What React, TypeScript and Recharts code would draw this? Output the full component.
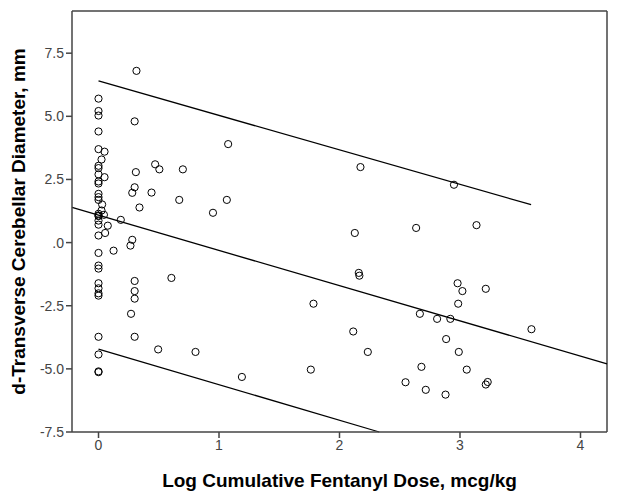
import React from "react";
import {
  ScatterChart,
  Scatter,
  XAxis,
  YAxis,
  ReferenceLine,
} from "recharts";

// data
const doseX = [
  0, 0, 0, 0, 0, 0.05, 0.025, 0, 0, 0, 0.05, 0, 0, 0, 0, 0, 0.03, 0, 0, 0.025, 0.045, 0, 0, 0, 0.055, 0.077, 0.185,
  0, 0.125, 0, 0, 0, 0, 0, 0, 0, 0, 0, 0, 0,
  0.315, 0.3, 0.47, 0.505, 0.7, 0.31, 0.3, 0.28, 0.44, 0.67, 0.34, 0.28, 0.265,
  0.3, 0.3, 0.3, 0.27, 0.3, 0.605, 0.495, 0.805,
  1.076, 2.174, 1.065, 0.95, 2.127, 2.16, 2.165, 1.784, 2.114, 2.235, 1.762, 1.19,
  2.95, 2.636, 3.137, 2.98, 3.02, 3.214, 2.985, 2.667, 2.81, 2.92, 3.593, 2.885, 2.99,
  2.68, 3.056, 2.548, 2.716, 2.88, 3.214, 3.23,
];
const diameterY = [
  5.7, 5.21, 5.03, 4.4, 3.7, 3.6, 3.29, 3.04, 2.95, 2.7, 2.59, 2.42, 2.34, 1.93, 1.8, 1.69, 1.51, 1.14, 1.07, 1.27, 1.1, 0.87, 0.71, 0.28, 0.38, 0.67, 0.9,
  -0.41, -0.32, -0.91, -1.03, -1.61, -1.81, -2.01, -2.1, -3.73, -4.43, -5.1, -5.13, 1.05,
  6.8, 4.8, 3.1, 2.9, 2.9, 2.79, 2.19, 1.97, 1.98, 1.69, 1.39, 0.11, -0.12,
  -1.52, -1.92, -2.22, -2.82, -3.73, -1.4, -4.23, -4.33,
  3.9, 2.99, 1.69, 1.18, 0.38, -1.2, -1.31, -2.42, -3.52, -4.33, -5.03, -5.32,
  2.29, 0.58, 0.69, -1.61, -1.92, -1.83, -2.42, -2.82, -3.02, -3.02, -3.43, -3.82, -4.33,
  -4.92, -5.03, -5.53, -5.83, -6.02, -5.62, -5.52,
];

// fit line end points (upper band, mean, lower band)
const fitX0 = [0, -0.22, 0];
const fitY0 = [6.4, 1.39, -4.22];
const fitX1 = [3.59, 4.22, 2.33];
const fitY1 = [1.5, -4.8, -7.5];

const xDomain = [-0.22, 4.22];
const yDomain = [-7.5, 9.17];
const xTicks = [0, 1, 2, 3, 4];
const yTicks = [-7.5, -5, -2.5, 0, 2.5, 5, 7.5];

const points = doseX.map((x, i) => ({ x, y: diameterY[i] }));

const font = "Arial, 'Liberation Sans', sans-serif";
const tickStyle = { fill: "#444", fontSize: 14, fontFamily: font };
const frame = "#444";

const OpenCircle = (props: any) => (
  <circle cx={props.cx} cy={props.cy} r={3.6} fill="none" stroke="#000" strokeWidth={1} />
);

const fmtY = (v: number) => (v === 0 ? ".0" : v.toFixed(1));

export default function App() {
  return (
    <div style={{ position: "absolute", left: 0, top: 0, background: "#fff" }}>
      <ScatterChart
        width={619}
        height={500}
        margin={{ top: 11, right: 12, left: 0, bottom: 0 }}
      >
        <XAxis
          type="number"
          dataKey="x"
          xAxisId="b"
          domain={xDomain}
          ticks={xTicks}
          allowDataOverflow
          height={68}
          stroke={frame}
          strokeWidth={1.5}
          tickSize={6}
          tick={tickStyle}
          label={{
            value: "Log Cumulative Fentanyl Dose, mcg/kg",
            position: "insideBottom",
            offset: 13,
            style: { fontSize: 19, fontWeight: "bold", fill: "#000", fontFamily: font },
          }}
        />
        <YAxis
          type="number"
          dataKey="y"
          yAxisId="l"
          domain={yDomain}
          ticks={yTicks}
          allowDataOverflow
          width={72}
          stroke={frame}
          strokeWidth={1.5}
          tickSize={6}
          tick={tickStyle}
          tickFormatter={fmtY}
          label={{
            value: "d-Transverse Cerebellar Diameter, mm",
            angle: -90,
            position: "insideLeft",
            offset: 18,
            style: { textAnchor: "middle", fontSize: 19, fontWeight: "bold", fill: "#000", fontFamily: font },
          }}
        />
        {/* top and right edges of the frame */}
        <ReferenceLine xAxisId="b" yAxisId="l" y={yDomain[1]} stroke={frame} strokeWidth={1.5} ifOverflow="visible" />
        <ReferenceLine xAxisId="b" yAxisId="l" x={xDomain[1]} stroke={frame} strokeWidth={1.5} ifOverflow="visible" />
        {fitX0.map((x0, i) => (
          <ReferenceLine
            key={i}
            xAxisId="b"
            yAxisId="l"
            segment={[
              { x: x0, y: fitY0[i] },
              { x: fitX1[i], y: fitY1[i] },
            ]}
            stroke="#000"
            strokeWidth={1.3}
            ifOverflow="visible"
          />
        ))}
        <Scatter
          data={points}
          xAxisId="b"
          yAxisId="l"
          shape={OpenCircle}
          isAnimationActive={false}
        />
      </ScatterChart>
    </div>
  );
}
